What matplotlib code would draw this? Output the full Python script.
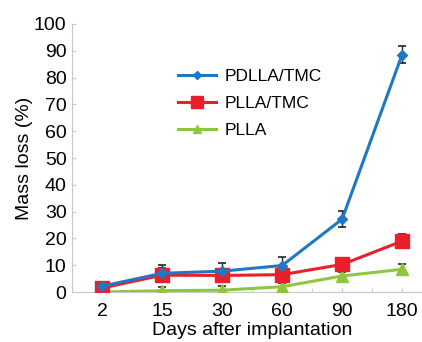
import matplotlib.pyplot as plt
import numpy as np

plt.rcParams['font.family'] = ['Liberation Sans', 'DejaVu Sans']

# Data
days = ['2', '15', '30', '60', '90', '180']
pdlla_tmc = [2.2, 7.0, 7.8, 9.9, 27.2, 88.6]
pdlla_tmc_err = [1.0, 3.0, 3.0, 3.0, 3.0, 3.0]
plla_tmc = [1.5, 6.3, 6.2, 6.5, 10.3, 19.0]
plla_tmc_err = [1.5, 2.5, 2.5, 2.5, 2.0, 2.5]
plla = [0.0, 0.5, 0.7, 2.0, 6.0, 8.5]
plla_err = [0.5, 1.5, 1.5, 1.5, 1.5, 2.0]

fig = plt.figure(figsize=(4.22, 3.42), dpi=100)
ax = fig.add_axes([0.171, 0.146, 0.853, 0.784])

x = np.arange(len(days))

# Excel-like series: line + marker + dark error caps
series = [
    (pdlla_tmc, pdlla_tmc_err, 'PDLLA/TMC', '#1f78c4', 'D', 5),
    (plla_tmc, plla_tmc_err, 'PLLA/TMC', '#e8202a', 's', 10),
    (plla, plla_err, 'PLLA', '#8dc63f', '^', 8),
]
handles = []
for vals, err, name, col, mk, ms in reversed(series):
    ax.errorbar(x, vals, yerr=err, fmt='none', ecolor='#222222',
                elinewidth=1, capsize=3, capthick=1.2, zorder=2)
    h, = ax.plot(x, vals, color=col, lw=2.2, marker=mk, ms=ms,
                 mec=col, mfc=col, label=name, zorder=3)
    handles.insert(0, h)

ax.set_xlim(-0.5, 5.5)
ax.set_ylim(0, 100)
ax.set_yticks(np.arange(0, 101, 10))
ax.set_xticks(x)
ax.set_xticklabels(days)
ax.set_xticks(np.arange(-0.5, 5.6, 1), minor=True)

for s in ['top', 'right']:
    ax.spines[s].set_visible(False)
for s in ['left', 'bottom']:
    ax.spines[s].set_color('#c8c8c8')
    ax.spines[s].set_linewidth(0.8)

ax.tick_params(axis='y', direction='in', length=3, color='#c8c8c8',
               labelsize=14, pad=4)
ax.tick_params(axis='x', which='both', direction='in', length=3,
               color='#c8c8c8', labelsize=14, pad=8)

ax.set_ylabel('Mass loss (%)', fontsize=14, labelpad=1)
ax.set_xlabel('Days after implantation', fontsize=14, labelpad=1)

leg = ax.legend(handles=handles, loc='upper left',
                bbox_to_anchor=(0.385, 0.845), bbox_transform=fig.transFigure,
                frameon=False, fontsize=12.5, handlelength=2.2,
                handletextpad=0.5, labelspacing=0.7, markerscale=0.8)

fig.savefig('out.png', dpi=100)
